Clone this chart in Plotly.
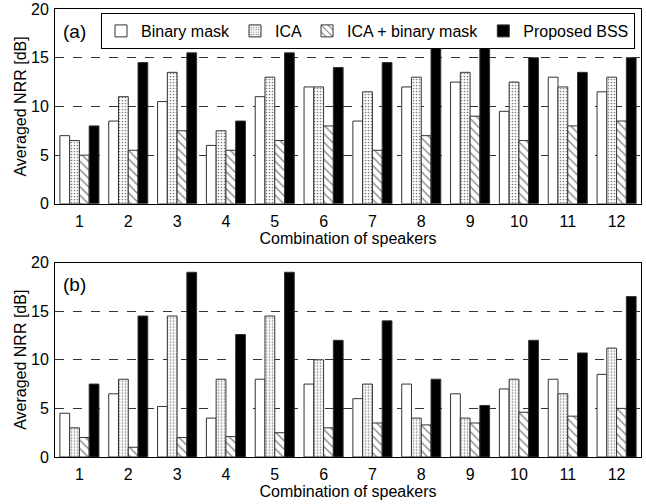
import plotly.graph_objects as go

categories = [str(i) for i in range(1, 13)]
series_names = ["Binary mask", "ICA", "ICA + binary mask", "Proposed BSS"]

# Panel (a)
a_binary = [7.0, 8.5, 10.5, 6.0, 11.0, 12.0, 8.5, 12.0, 12.5, 9.5, 13.0, 11.5]
a_ica = [6.5, 11.0, 13.5, 7.5, 13.0, 12.0, 11.5, 13.0, 13.5, 12.5, 12.0, 13.0]
a_ica_bm = [5.0, 5.5, 7.5, 5.5, 6.5, 8.0, 5.5, 7.0, 9.0, 6.5, 8.0, 8.5]
a_bss = [8.0, 14.5, 15.5, 8.5, 15.5, 14.0, 14.5, 16.0, 16.0, 15.0, 13.5, 15.0]

# Panel (b)
b_binary = [4.5, 6.5, 5.2, 4.0, 8.0, 7.5, 6.0, 7.5, 6.5, 7.0, 8.0, 8.5]
b_ica = [3.0, 8.0, 14.5, 8.0, 14.5, 10.0, 7.5, 4.0, 4.0, 8.0, 6.5, 11.2]
b_ica_bm = [2.0, 1.0, 2.0, 2.1, 2.5, 3.0, 3.5, 3.3, 3.5, 4.6, 4.2, 5.0]
b_bss = [7.5, 14.5, 19.0, 12.6, 19.0, 12.0, 14.0, 8.0, 5.3, 12.0, 10.7, 16.5]

FONT = "Liberation Sans, Arial, Helvetica, sans-serif"
W, H = 646, 504
ML, MR, MT, MB = 55, 5, 9, 46.7
PW = W - ML - MR
PH = H - MT - MB


def px_x(px):
    return (px - ML) / PW


def px_y(py):
    return (H - MB - py) / PH


styles = [
    dict(color="white", pattern=None),
    dict(color="white", pattern=dict(shape=".", size=3, solidity=0.25, fgcolor="black", bgcolor="white")),
    dict(color="white", pattern=dict(shape="\\", size=6, solidity=0.22, fgcolor="black", bgcolor="white")),
    dict(color="black", pattern=None),
]

fig = go.Figure()
panels = [
    ([a_binary, a_ica, a_ica_bm, a_bss], "x", "y", True),
    ([b_binary, b_ica, b_ica_bm, b_bss], "x2", "y2", False),
]
for data, xa, ya, show in panels:
    for name, vals, st in zip(series_names, data, styles):
        marker = dict(color=st["color"], line=dict(color="#333333", width=1))
        if st["pattern"]:
            marker["pattern"] = st["pattern"]
        fig.add_trace(go.Bar(
            x=categories, y=vals, name=name, xaxis=xa, yaxis=ya,
            marker=marker, showlegend=show, legendgroup=name,
        ))

ya_dom = [px_y(204), 1]
yb_dom = [0, px_y(262.7)]

axis_common = dict(
    showline=True, linecolor="black", linewidth=1, mirror=True, automargin=False,
    tickfont=dict(family=FONT, size=16, color="black"),
)
xcommon = dict(axis_common, ticks="", showgrid=False, ticklabelstandoff=3,
               title=dict(text="Combination of speakers", font=dict(family=FONT, size=16, color="black"), standoff=0))
ycommon = dict(axis_common, range=[0, 20], dtick=5, ticks="", ticklabelstandoff=2,
               showgrid=True, gridcolor="#333333", griddash="dash", gridwidth=1,
               zeroline=False,
               title=dict(text="Averaged NRR [dB]", font=dict(family=FONT, size=16, color="black"), standoff=0))

fig.update_layout(
    width=W, height=H,
    margin=dict(l=ML, r=MR, t=MT, b=MB, autoexpand=False),
    paper_bgcolor="white", plot_bgcolor="white",
    barmode="group", bargap=0.2, bargroupgap=0,
    font=dict(family=FONT, size=16, color="black"),
    xaxis=dict(xcommon, anchor="y"),
    yaxis=dict(ycommon, domain=ya_dom, anchor="x"),
    xaxis2=dict(xcommon, anchor="y2"),
    yaxis2=dict(ycommon, domain=yb_dom, anchor="x2"),
    legend=dict(
        orientation="h", x=635 / W, y=1 - 13 / H, xanchor="right", yanchor="top",
        xref="container", yref="container",
        bordercolor="black", borderwidth=1, bgcolor="white",
        font=dict(family=FONT, size=16, color="black"),
        itemwidth=30, tracegroupgap=0,
    ),
    annotations=[
        dict(text="(a)", x=px_x(61), y=px_y(32), xref="paper", yref="paper",
             xanchor="left", yanchor="middle", showarrow=False,
             font=dict(family=FONT, size=19, color="black")),
        dict(text="(b)", x=px_x(61), y=px_y(285), xref="paper", yref="paper",
             xanchor="left", yanchor="middle", showarrow=False,
             font=dict(family=FONT, size=19, color="black")),
    ],
)

fig.write_html(
    "out.html",
    config={"displayModeBar": False},
    post_script="document.body.style.margin='0';document.body.style.padding='0';",
)
